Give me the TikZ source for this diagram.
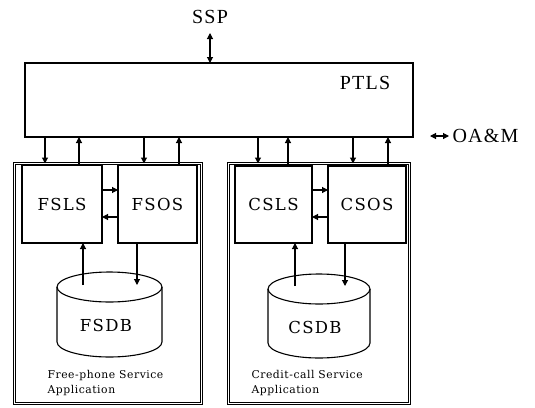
\documentclass[tikz,border=0pt]{standalone}
\usepackage{fontspec}
\setmainfont{Liberation Serif}
\newfontfamily\titlefont[LetterSpace=6]{Liberation Serif}
\newfontfamily\boxfont[LetterSpace=8]{DejaVu Serif}
\newfontfamily\appfont[LetterSpace=5]{DejaVu Serif}
\usetikzlibrary{arrows.meta}
\begin{document}
\begin{tikzpicture}[x=1pt,y=-1pt, line width=1.1pt,
  tip/.style={-{Triangle[length=6pt,width=6pt]}},
  bitip/.style={{Triangle[length=6pt,width=6pt]}-{Triangle[length=6pt,width=6pt]}},
  blk/.style={draw, rectangle, inner sep=0pt, outer sep=0pt, anchor=north west},
  group/.style={draw, double, double distance=1.3pt, line width=0.9pt, rectangle, inner sep=0pt, outer sep=0pt, anchor=north west},
  ttl/.style={font=\titlefont\fontsize{20}{20}\selectfont, inner sep=0pt},
  boxlbl/.style={font=\boxfont\fontsize{16.5}{17}\selectfont},
  applbl/.style={font=\appfont\fontsize{10.8}{15}\selectfont, align=left, anchor=west, inner sep=0pt}
]
\useasboundingbox (0,0) rectangle (535,407);

% top level
\node[ttl] (ssp) at (210,17) {SSP};
\node[blk, minimum width=388pt, minimum height=74pt] (ptls) at (25,63) {};
\node[ttl] (ptlstxt) at (365,83) {PTLS};
\node[ttl, anchor=west] (oam) at (452,136) {OA\&M};
\coordinate (oamend) at (430,136);
\coordinate (sspend) at (210,33);
\draw[bitip] (sspend) -- (sspend |- ptls.north);
\draw[bitip] (oamend) -- ([xshift=-3pt]oam.west);

% groups
\node[group, minimum width=187pt, minimum height=240pt] (fapp) at (14.5,163.5) {};
\node[group, minimum width=181pt, minimum height=240pt] (capp) at (228.5,163.5) {};

% inner boxes
\node[blk, minimum width=80pt, minimum height=78pt] (fsls) at (22,165) {};
\node[boxlbl] at (fsls.center) {FSLS};
\node[blk, minimum width=79pt, minimum height=78pt] (fsos) at (118,165) {};
\node[boxlbl] at (fsos.center) {FSOS};
\node[blk, minimum width=77pt, minimum height=77pt] (csls) at (235,166) {};
\node[boxlbl] at (csls.center) {CSLS};
\node[blk, minimum width=78pt, minimum height=77pt] (csos) at (328,166) {};
\node[boxlbl] at (csos.center) {CSOS};

% PTLS <-> boxes
\coordinate (d1) at (45,0);  \coordinate (u1) at (79,0);
\coordinate (d2) at (144,0); \coordinate (u2) at (179,0);
\coordinate (d3) at (258,0); \coordinate (u3) at (288,0);
\coordinate (d4) at (353,0); \coordinate (u4) at (388,0);
\draw[tip] (d1 |- ptls.south) -- (d1 |- fapp.north);
\draw[tip] (u1 |- fsls.north) -- (u1 |- ptls.south);
\draw[tip] (d2 |- ptls.south) -- (d2 |- fapp.north);
\draw[tip] (u2 |- fsos.north) -- (u2 |- ptls.south);
\draw[tip] (d3 |- ptls.south) -- (d3 |- capp.north);
\draw[tip] (u3 |- csls.north) -- (u3 |- ptls.south);
\draw[tip] (d4 |- ptls.south) -- (d4 |- capp.north);
\draw[tip] (u4 |- csos.north) -- (u4 |- ptls.south);

% LS <-> OS
\coordinate (h1) at (0,190); \coordinate (h2) at (0,217);
\draw[tip] (fsls.east |- h1) -- (fsos.west |- h1);
\draw[tip] (fsos.west |- h2) -- (fsls.east |- h2);
\draw[tip] (csls.east |- h1) -- (csos.west |- h1);
\draw[tip] (csos.west |- h2) -- (csls.east |- h2);

% databases
\draw (57,287) -- (57,342) arc[start angle=180, end angle=0, x radius=52.5, y radius=15] -- (162,287);
\draw (109.5,287) ellipse [x radius=52.5, y radius=15];
\node[boxlbl] (fsdb) at (106,325) {FSDB};
\draw (268,289) -- (268,343) arc[start angle=180, end angle=0, x radius=51, y radius=15] -- (370,289);
\draw (319,289) ellipse [x radius=51, y radius=15];
\node[boxlbl] (csdb) at (315,327) {CSDB};

\coordinate (fu) at (83,285);  \coordinate (fd) at (137,285);
\coordinate (cu) at (295,286); \coordinate (cd) at (345,286);
\draw[tip] (fu) -- (fu |- fsls.south);
\draw[tip] (fd |- fsos.south) -- (fd);
\draw[tip] (cu) -- (cu |- csls.south);
\draw[tip] (cd |- csos.south) -- (cd);

% application labels
\node[applbl] (fl) at (47,383) {Free-phone Service\\Application};
\node[applbl] (cl) at (251,383) {Credit-call Service\\Application};
\end{tikzpicture}
\end{document}
